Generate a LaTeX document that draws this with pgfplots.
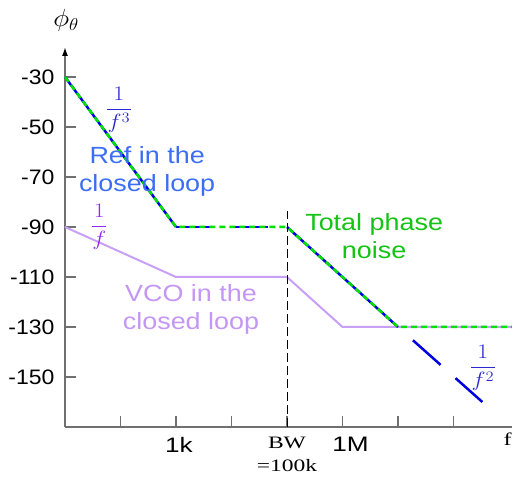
\documentclass[border=0pt]{standalone}
\usepackage{pgfplots}
\pgfplotsset{compat=1.18}
\usepackage{graphicx}
\usepackage{fontspec}
\setmainfont{Liberation Sans}
\newfontfamily\labsans[FakeStretch=1.15]{Liberation Sans}
\newfontfamily\ticksans[FakeStretch=1.1]{Liberation Sans}
\newfontfamily\kmsans[FakeStretch=1.25]{Liberation Sans}
\newfontfamily\serifw[FakeStretch=1.35]{Liberation Serif}
\usetikzlibrary{arrows.meta}
\definecolor{axisgray}{RGB}{112,112,112}
\definecolor{refblue}{RGB}{0,0,225}
\definecolor{totgreen}{RGB}{0,225,0}
\definecolor{vcoline}{RGB}{200,160,245}
\definecolor{vcotext}{RGB}{196,150,245}
\definecolor{reftext}{RGB}{60,110,245}
\definecolor{tottext}{RGB}{20,195,20}
\definecolor{fracpurple}{RGB}{150,40,245}
\definecolor{fracblue}{RGB}{40,40,210}
\begin{document}
\begin{tikzpicture}
\begin{axis}[
  x=55.5bp, y=2.5bp,
  xmin=0, xmax=8.05, ymin=-170, ymax=-18,
  axis x line=bottom, axis y line=left,
  x axis line style={-, draw=axisgray, line width=1.5bp},
  y axis line style={-{Latex[length=9bp,width=6bp,black]}, draw=axisgray, line width=1.5bp},
  tick align=inside,
  major tick length=11bp,
  tick style={axisgray, line width=1.3bp},
  xtick={1,2,3,4,5,6,7},
  xticklabels={,{\kmsans\fontsize{21}{22}\selectfont\hspace*{6bp}1k},,{\serifw BW}\\{\serifw =100k},{\kmsans\fontsize{21}{22}\selectfont\hspace*{16bp}1M},,},
  xticklabel style={align=center, font=\fontsize{17.5}{23}\selectfont, text=black, yshift=-7bp},
  ytick={-30,-50,-70,-90,-110,-130,-150},
  yticklabels={-30,-50,-70,-90,-110,-130,-150},
  yticklabel style={font=\ticksans\fontsize{21}{22}\selectfont, text=black, xshift=-7bp},
  clip=false,
]
\addplot[vcoline, line width=2bp] coordinates {(0,-90)(2,-110)(4,-110)(5,-130)(8.05,-130)};
\addplot[refblue, line width=2.5bp] coordinates {(0,-30)(2,-90)};
\addplot[refblue, line width=2.5bp, dash pattern=on 36bp off 20bp] coordinates {(2,-90)(4,-90)};
\addplot[refblue, line width=2.5bp] coordinates {(4,-90)(6,-130)};
\addplot[refblue, line width=2.5bp, dash pattern=on 37bp off 20bp, dash phase=37bp] coordinates {(6,-130)(7.52,-160)};
\addplot[totgreen, line width=2.5bp, dash pattern=on 6bp off 4bp] coordinates {(0,-30)(2,-90)(4,-90)(6,-130)(8.05,-130)};
\addplot[black, line width=1bp, dash pattern=on 9bp off 4bp] coordinates {(4,-170)(4,-83.6)};

\node[text=reftext, align=center, font=\labsans\fontsize{23.5}{28}\selectfont] at (axis cs:1.48,-67.8) {Ref in the\\closed loop};
\node[text=vcotext, align=center, font=\labsans\fontsize{23.5}{28}\selectfont] at (axis cs:2.27,-123) {VCO in the\\closed loop};
\node[text=tottext, align=center, font=\labsans\fontsize{23.5}{28}\selectfont] at (axis cs:5.57,-93.6) {Total phase\\noise};

\node[text=fracblue, font=\fontsize{22}{24}\selectfont] at (axis cs:0.97,-43) {\scalebox{1.15}[1]{$\displaystyle\frac{\;1\;}{f^{3}}$}};
\node[text=fracpurple, font=\fontsize{22}{24}\selectfont] at (axis cs:0.62,-90) {\scalebox{1.15}[1]{$\displaystyle\frac{1}{f}$}};
\node[text=fracblue, font=\fontsize{22}{24}\selectfont] at (axis cs:7.53,-146.5) {\scalebox{1.15}[1]{$\displaystyle\frac{\;1\;}{f^{2}}$}};

\node[font=\fontsize{23}{25}\selectfont] at (axis cs:0.02,-7.5) {\scalebox{1.1}[1]{$\phi_\theta$}};
\node[font=\serifw\fontsize{18}{20}\selectfont, anchor=east, inner sep=0pt] at (axis cs:8.05,-175) {f};
\end{axis}
\pgfresetboundingbox
\path[use as bounding box] (-65bp,-51bp) rectangle (447bp,427bp);
\end{tikzpicture}
\end{document}
